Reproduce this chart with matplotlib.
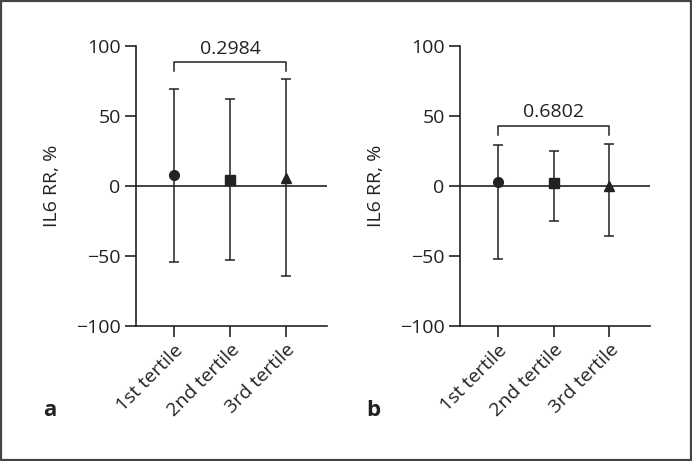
import matplotlib
matplotlib.use("Agg")
import matplotlib.pyplot as plt
from matplotlib.patches import Rectangle

plt.rcParams['font.family'] = ['Open Sans', 'DejaVu Sans']

categories = ["1st tertile", "2nd tertile", "3rd tertile"]
markers = ["o", "s", "^"]

a_mean = [7.6, 4.1, 5.7]
a_upper = [68.9, 61.7, 76.0]
a_lower = [-54.3, -53.0, -64.5]
a_p = "0.2984"
a_bracket = (88, 82)

b_mean = [2.9, 1.7, -0.5]
b_upper = [29.0, 25.0, 30.0]
b_lower = [-52.6, -25.2, -35.7]
b_p = "0.6802"
b_bracket = (42.6, 36)

yticks = [-100, -50, 0, 50, 100]
ylabel = "IL6 RR, %"

W, H = 692, 461
fig = plt.figure(figsize=(W/100, H/100), dpi=100)
col = "#222222"
FS = 14

def make_panel(rect, mean, upper, lower, ptxt, bracket, letter, letter_xy):
    ax = fig.add_axes(rect)
    xs = list(range(len(categories)))
    ax.axhline(0, color=col, lw=1.2, zorder=1)
    for x, m, u, l, mk in zip(xs, mean, upper, lower, markers):
        ax.errorbar([x], [m], yerr=[[m - l], [u - m]], fmt=mk, color=col,
                    ecolor=col, elinewidth=1.1, capsize=3.5, capthick=1.1,
                    markersize=7 if mk != "^" else 7.5, zorder=3)
    ax.set_xlim(-0.68, 2.73)
    ax.set_ylim(-100, 100)
    ax.set_yticks(yticks)
    ax.set_yticklabels([str(t).replace("-", "\u2212") for t in yticks])
    ax.set_xticks(xs)
    ax.set_xticklabels(categories, rotation=45, ha="right", va="top",
                       rotation_mode="anchor")
    for s in ["top", "right"]:
        ax.spines[s].set_visible(False)
    for s in ["left", "bottom"]:
        ax.spines[s].set_linewidth(1.2)
        ax.spines[s].set_color(col)
    ax.tick_params(axis="both", direction="out", length=8, width=1.2,
                   color=col, labelsize=FS, labelcolor=col, pad=3)
    ax.set_ylabel(ylabel, fontsize=FS, color=col, labelpad=11)
    top, leg = bracket
    ax.plot([0, 0, 2, 2], [leg, top, top, leg], color=col, lw=1.1,
            clip_on=False)
    ax.text(1, top + 3.5, ptxt, ha="center", va="bottom", fontsize=FS,
            color=col, clip_on=False)
    fig.text(letter_xy[0] / W, 1 - letter_xy[1] / H, letter, fontsize=16,
             fontweight="bold", color=col, ha="center", va="center")
    return ax

def rect_px(x0, x1, y0, y1):
    return [x0 / W, 1 - y1 / H, (x1 - x0) / W, (y1 - y0) / H]

make_panel(rect_px(136, 327, 45.7, 325.7), a_mean, a_upper, a_lower, a_p,
           a_bracket, "a", (50, 410))
make_panel(rect_px(460, 650, 45.7, 325.7), b_mean, b_upper, b_lower, b_p,
           b_bracket, "b", (373, 410))

fig.add_artist(Rectangle((0.0015, 0.002), 0.997, 0.996, transform=fig.transFigure,
                         fill=False, edgecolor="#444444", lw=1.6))

fig.savefig("out.png", dpi=100)
